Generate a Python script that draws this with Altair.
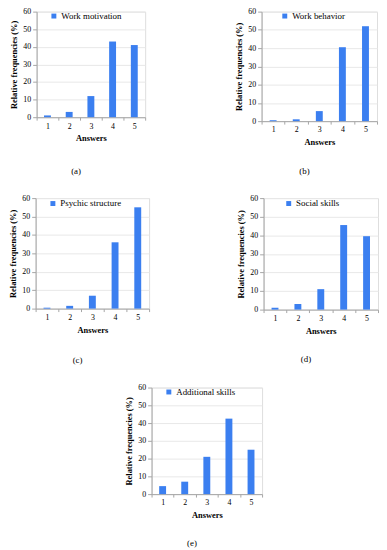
import altair as alt
import pandas as pd

answers = ["1", "2", "3", "4", "5"]
work_motivation = [1, 3, 12, 43, 41]
work_behavior = [0.5, 1, 5.5, 40.5, 52]
psychic_structure = [0.5, 1.5, 7, 36, 55]
social_skills = [1, 3, 11, 45.5, 39.5]
additional_skills = [4.5, 7, 21, 42.5, 25]
series_names = ["Work motivation", "Work behavior", "Psychic structure",
                "Social skills", "Additional skills"]
panel_labels = ["(a)", "(b)", "(c)", "(d)", "(e)"]
y_ticks = [0, 10, 20, 30, 40, 50, 60]

FONT = "Liberation Serif"
BLUE = "#3b7ff0"
AXIS_GRAY = "#a6a6a6"


def panel(name, values, label, w, h, lx, ly, toff):
    df = pd.DataFrame({"Answer": answers, "Freq": values, "Series": name})
    return (
        alt.Chart(df, title=alt.TitleParams(label, orient="bottom", fontSize=9,
                                            fontWeight="normal", font=FONT,
                                            color="#000000", offset=toff, dx=-15))
        .mark_bar(size=7)
        .encode(
            x=alt.X("Answer:N", sort=answers,
                    scale=alt.Scale(paddingOuter=0, paddingInner=0),
                    axis=alt.Axis(title="Answers", labelAngle=0, tickBand="extent",
                                  tickSize=3, labelPadding=2, titlePadding=4,
                                  domainColor=AXIS_GRAY, tickColor=AXIS_GRAY,
                                  labelFont=FONT, labelFontSize=8, labelColor="#000",
                                  titleFont=FONT, titleFontSize=8.5,
                                  titleFontWeight="bold", titleColor="#000",
                                  grid=False)),
            y=alt.Y("Freq:Q", scale=alt.Scale(domain=[0, 60], nice=False),
                    axis=alt.Axis(values=y_ticks, title="Relative frequencies (%)",
                                  tickSize=4, labelPadding=2, titlePadding=4,
                                  domainColor=AXIS_GRAY, tickColor=AXIS_GRAY,
                                  gridColor="#e8e8e8",
                                  labelFont=FONT, labelFontSize=8, labelColor="#000",
                                  titleFont=FONT, titleFontSize=8.5,
                                  titleFontWeight="bold", titleColor="#000")),
            color=alt.Color("Series:N", scale=alt.Scale(range=[BLUE]),
                            legend=alt.Legend(orient="none", legendX=lx, legendY=ly,
                                              title=None, padding=0, symbolType="square",
                                              symbolSize=25, symbolStrokeWidth=0,
                                              labelFont=FONT, labelFontSize=9,
                                              labelColor="#000", labelOffset=3)),
        )
        .properties(width=w, height=h)
    )


pa = panel(series_names[0], work_motivation, panel_labels[0], 110, 107, 13, 0, 25)
pb = panel(series_names[1], work_behavior, panel_labels[1], 117, 111, 19, 0, 21)
pc = panel(series_names[2], psychic_structure, panel_labels[2], 115, 112, 13, 1, 23)
pd_ = panel(series_names[3], social_skills, panel_labels[3], 116, 113, 21, 1, 21)
pe = panel(series_names[4], additional_skills, panel_labels[4], 112, 108, 13, 0, 20)

row1 = alt.hconcat(pa, pb, spacing=89).resolve_scale(color="independent")
row2 = alt.hconcat(pc, pd_, spacing=87).resolve_scale(color="independent")

chart = (
    alt.vconcat(row1, row2, pe, spacing=17, center=True)
    .resolve_scale(color="independent")
    .properties(padding={"left": 0, "top": -5, "right": 0, "bottom": 0})
    .configure_view(stroke=None)
    .configure(background="#ffffff")
)

chart.save("out.html", embed_options={"renderer": "svg", "actions": False})
